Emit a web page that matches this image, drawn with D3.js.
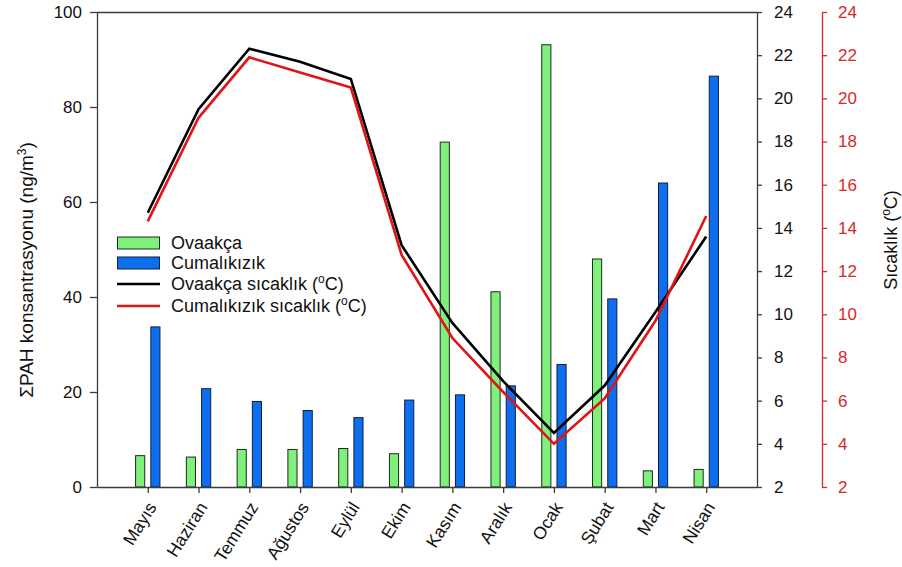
<!DOCTYPE html>
<html>
<head>
<meta charset="utf-8">
<script src="https://cdn.jsdelivr.net/npm/d3@7"></script>
<style>
  html, body { margin: 0; padding: 0; background: #fff; }
  svg text { font-family: "Liberation Sans", Arial, Helvetica, sans-serif; }
</style>
</head>
<body>
<svg id="chart" width="902" height="567"></svg>
<script>
// Months (May to April)
const months = ["Mayıs", "Haziran", "Temmuz", "Ağustos", "Eylül", "Ekim",
                "Kasım", "Aralık", "Ocak", "Şubat", "Mart", "Nisan"];

// ΣPAH concentrations (ng/m³)
const pahOvaakca     = [6.6, 6.3, 7.9, 7.9, 8.1, 7.0, 72.6, 41.1, 93.1, 48.0, 3.4, 3.7];
const pahCumalikizik = [33.7, 20.7, 18.0, 16.1, 14.6, 18.3, 19.4, 21.3, 25.8, 39.6, 64.0, 86.5];

// Monthly temperatures (°C)
const tempOvaakca     = [14.7, 19.5, 22.3, 21.7, 20.9, 13.2, 9.6, 6.9, 4.5, 6.7, 10.1, 13.6];
const tempCumalikizik = [14.3, 19.1, 21.9, 21.2, 20.5, 12.75, 8.9, 6.4, 4.0, 6.1, 9.7, 14.55];

// Axis ticks
const leftTicks  = [0, 20, 40, 60, 80, 100];
const rightTicks = [2, 4, 6, 8, 10, 12, 14, 16, 18, 20, 22, 24];

const svg = d3.select("#chart");
const L = 97, R = 757, T = 12, B = 487;
const axisColor = "#3c3c3c";
const redAxis = "#d42a2a";

const x  = d3.scaleLinear().domain([-1, 12]).range([L, R]);
const yL = d3.scaleLinear().domain([0, 100]).range([B, T]);
const yR = d3.scaleLinear().domain([2, 24]).range([B, T]);

const barW = 0.18, barGap = 0.06;

// Bars
const bars = svg.append("g");
bars.selectAll("rect.ova").data(pahOvaakca).join("rect")
  .attr("x", (d, i) => x(i - barGap - barW))
  .attr("width", (d, i) => x(i - barGap) - x(i - barGap - barW))
  .attr("y", d => yL(d))
  .attr("height", d => yL(0) - yL(d))
  .attr("fill", "#80f07c").attr("stroke", "#1e2a1e").attr("stroke-width", 1);
bars.selectAll("rect.cum").data(pahCumalikizik).join("rect")
  .attr("x", (d, i) => x(i + barGap))
  .attr("width", (d, i) => x(i + barGap + barW) - x(i + barGap))
  .attr("y", d => yL(d))
  .attr("height", d => yL(0) - yL(d))
  .attr("fill", "#0d6ff0").attr("stroke", "#10203a").attr("stroke-width", 1);

// Temperature lines
const line = d3.line().x((d, i) => x(i)).y(d => yR(d));
svg.append("path").datum(tempOvaakca).attr("d", line)
  .attr("fill", "none").attr("stroke", "#000").attr("stroke-width", 2.6)
  .attr("stroke-linejoin", "miter");
svg.append("path").datum(tempCumalikizik).attr("d", line)
  .attr("fill", "none").attr("stroke", "#e01414").attr("stroke-width", 2.6)
  .attr("stroke-linejoin", "miter");

// Frame lines
svg.append("line").attr("x1", L).attr("x2", R).attr("y1", T + 0.5).attr("y2", T + 0.5)
  .attr("stroke", axisColor).attr("stroke-width", 1.3);

// Left axis
const gL = svg.append("g").attr("transform", `translate(${L},0)`)
  .call(d3.axisLeft(yL).tickValues(leftTicks).tickSize(7).tickPadding(8).tickSizeOuter(0));
// Bottom axis
const gB = svg.append("g").attr("transform", `translate(0,${B})`)
  .call(d3.axisBottom(x).tickValues(d3.range(months.length)).tickSize(6).tickSizeOuter(0)
    .tickFormat(i => months[i]));
// Right black axis
const gR = svg.append("g").attr("transform", `translate(${R},0)`)
  .call(d3.axisRight(yR).tickValues(rightTicks).tickSize(5).tickPadding(12).tickSizeOuter(0));
// Right red axis
const gR2 = svg.append("g").attr("transform", `translate(822,0)`)
  .call(d3.axisRight(yR).tickValues(rightTicks).tickSize(5).tickPadding(11).tickSizeOuter(0));

[gL, gB, gR].forEach(g => {
  g.select(".domain").attr("stroke", axisColor).attr("stroke-width", 1.3);
  g.selectAll(".tick line").attr("stroke", axisColor).attr("stroke-width", 1.3);
  g.selectAll(".tick text").attr("fill", "#111").style("font-size", "17px");
});
gR2.select(".domain").attr("stroke", redAxis).attr("stroke-width", 1.3);
gR2.selectAll(".tick line").attr("stroke", redAxis).attr("stroke-width", 1.3);
gR2.selectAll(".tick text").attr("fill", redAxis).style("font-size", "17px");

// Rotated month labels
gB.selectAll(".tick text")
  .attr("text-anchor", "end")
  .attr("dy", "0")
  .attr("y", 0)
  .style("font-size", "17.5px")
  .attr("transform", "translate(9,20) rotate(-58)");

// Axis titles
const leftTitle = svg.append("text")
  .attr("transform", `translate(33,270) rotate(-90)`)
  .attr("text-anchor", "middle").style("font-size", "19px").attr("fill", "#111");
leftTitle.append("tspan").text("ΣPAH konsantrasyonu (ng/m");
leftTitle.append("tspan").attr("baseline-shift", "super").style("font-size", "12px").text("3");
leftTitle.append("tspan").text(")");

const rightTitle = svg.append("text")
  .attr("transform", `translate(897,240) rotate(-90)`)
  .attr("text-anchor", "middle").style("font-size", "18px").attr("fill", "#111");
rightTitle.append("tspan").text("Sıcaklık (");
rightTitle.append("tspan").attr("baseline-shift", "super").style("font-size", "12px").text("o");
rightTitle.append("tspan").text("C)");

// Legend
const legend = svg.append("g").attr("transform", "translate(117,0)");
const legendItems = [
  { type: "rect", fill: "#80f07c", stroke: "#1e2a1e", label: ["Ovaakça"] },
  { type: "rect", fill: "#0d6ff0", stroke: "#10203a", label: ["Cumalıkızık"] },
  { type: "line", stroke: "#000", label: ["Ovaakça sıcaklık (", "o", "C)"] },
  { type: "line", stroke: "#e01414", label: ["Cumalıkızık sıcaklık (", "o", "C)"] }
];
const rowY = [243, 263, 284, 306];
legendItems.forEach((it, k) => {
  const cy = rowY[k];
  if (it.type === "rect") {
    legend.append("rect").attr("x", 0.5).attr("y", cy - 6).attr("width", 42).attr("height", 12)
      .attr("fill", it.fill).attr("stroke", it.stroke).attr("stroke-width", 1);
  } else {
    legend.append("line").attr("x1", 0).attr("x2", 43).attr("y1", cy).attr("y2", cy)
      .attr("stroke", it.stroke).attr("stroke-width", 2.6);
  }
  const t = legend.append("text").attr("x", 54).attr("y", cy).attr("dy", "0.35em")
    .style("font-size", "18px").attr("fill", "#111");
  t.append("tspan").text(it.label[0]);
  if (it.label.length > 1) {
    t.append("tspan").attr("baseline-shift", "super").style("font-size", "12px").text(it.label[1]);
    t.append("tspan").text(it.label[2]);
  }
});
</script>
</body>
</html>
